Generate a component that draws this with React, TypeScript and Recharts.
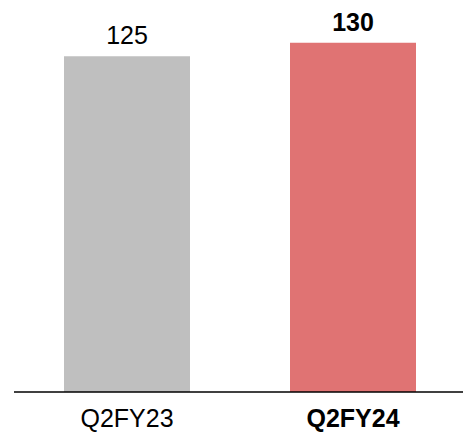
import React from "react";
import { BarChart, Bar, XAxis, YAxis, LabelList, Cell } from "recharts";

// values
const quarters = ["Q2FY23", "Q2FY24"];
const values = [125, 130];
const barColors = ["#BFBFBF", "#E07373"];
const highlighted = [false, true];

const data = quarters.map((q, i) => ({ quarter: q, value: values[i] }));

const FONT = "'Liberation Sans', Arial, sans-serif";

const QuarterTick = (props: any) => {
  const { x, y, payload, index } = props;
  return (
    <text
      x={x}
      y={y + 27}
      textAnchor="middle"
      fontFamily={FONT}
      fontSize={25}
      fontWeight={highlighted[index] ? "bold" : "normal"}
      fill="#000"
    >
      {payload.value}
    </text>
  );
};

const ValueLabel = (props: any) => {
  const { x, y, width, value, index } = props;
  return (
    <text
      x={x + width / 2}
      y={y - 12}
      textAnchor="middle"
      fontFamily={FONT}
      fontSize={25}
      fontWeight={highlighted[index] ? "bold" : "normal"}
      fill="#000"
    >
      {value}
    </text>
  );
};

export default function App() {
  return (
    <div style={{ position: "absolute", left: 0, top: 0 }}>
      <BarChart
        width={463}
        height={433}
        data={data}
        margin={{ top: 16, right: -3, left: 14, bottom: 0 }}
        barCategoryGap={50}
      >
        <XAxis
          dataKey="quarter"
          height={41}
          tickLine={false}
          axisLine={{ stroke: "#000", strokeWidth: 1.5 }}
          tick={<QuarterTick />}
          interval={0}
        />
        <YAxis hide domain={[0, 140]} />
        <Bar dataKey="value" isAnimationActive={false}>
          {data.map((d, i) => (
            <Cell key={d.quarter} fill={barColors[i]} />
          ))}
          <LabelList dataKey="value" content={<ValueLabel />} />
        </Bar>
      </BarChart>
    </div>
  );
}
